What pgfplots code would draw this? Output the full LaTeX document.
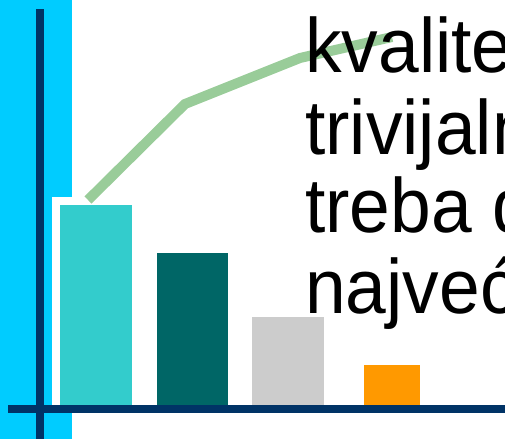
\documentclass[border=0pt]{standalone}
\usepackage{pgfplots}
\pgfplotsset{compat=1.18}
\usepackage{fontspec}
\setmainfont{Liberation Sans}
\definecolor{stripcyan}{HTML}{00CCFF}
\definecolor{navy}{HTML}{003366}
\definecolor{barA}{HTML}{33CCCC}
\definecolor{barB}{HTML}{006666}
\definecolor{barC}{HTML}{CCCCCC}
\definecolor{barD}{HTML}{FF9900}
\definecolor{linegreen}{HTML}{99CC99}
\newcommand{\bigtxt}[1]{\scalebox{0.95}[1]{\fontsize{77}{80}\selectfont #1}}
\begin{document}
\begin{tikzpicture}
\begin{axis}[
  at={(0pt,0pt)}, anchor=south west,
  scale only axis, width=505pt, height=439pt,
  xmin=0, xmax=505, ymin=-34, ymax=405,
  axis lines=none, clip=false,
]
% background strip
\fill[stripcyan] (axis cs:0,-34) rectangle (axis cs:72,405);
\fill[white] (axis cs:52,0) rectangle (axis cs:72,208);
% bars
\addplot[ybar, bar width=72pt, bar shift=0pt, fill=barA, draw=none] coordinates {(96,200)};
\addplot[ybar, bar width=71pt, bar shift=0pt, fill=barB, draw=none] coordinates {(192.5,152)};
\addplot[ybar, bar width=72pt, bar shift=0pt, fill=barC, draw=none] coordinates {(288,88)};
\addplot[ybar, bar width=56pt, bar shift=0pt, fill=barD, draw=none] coordinates {(392,40)};
% cumulative line
\addplot[linegreen, line width=10pt, line cap=butt, line join=miter, mark=none] coordinates {(88,205) (185,301) (300,347) (392,368)};
% axes
\fill[navy] (axis cs:36,-34) rectangle (axis cs:44,396);
\fill[navy] (axis cs:8,-8) rectangle (axis cs:505,0);
% text
\node[anchor=base west, inner sep=0pt] at (axis cs:305,332) {\bigtxt{kvalitete}};
\node[anchor=base west, inner sep=0pt] at (axis cs:305,250) {\bigtxt{trivijalnih}};
\node[anchor=base west, inner sep=0pt] at (axis cs:305,172) {\bigtxt{treba da}};
\node[anchor=base west, inner sep=0pt] at (axis cs:305,92) {\bigtxt{najveći}};
\end{axis}
\pgfresetboundingbox
\useasboundingbox (0pt,0pt) rectangle (505pt,439pt);
\end{tikzpicture}
\end{document}
